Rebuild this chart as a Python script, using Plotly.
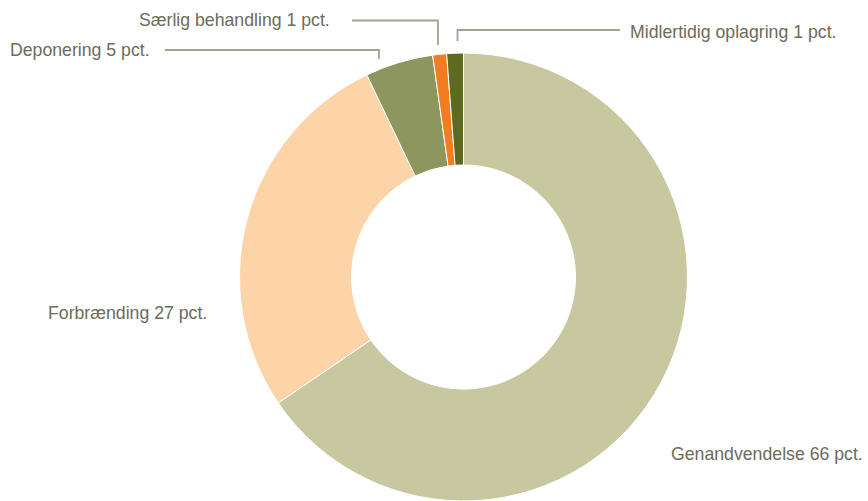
import plotly.graph_objects as go

categories = ["Genandvendelse", "Forbrænding", "Deponering", "Særlig behandling", "Midlertidig oplagring"]
values = [65.5, 27.4, 4.9, 1.0, 1.2]
label_texts = ["Genandvendelse 66 pct.", "Forbrænding 27 pct.", "Deponering 5 pct.",
               "Særlig behandling 1 pct.", "Midlertidig oplagring 1 pct."]
colors = ["#C8C8A0", "#FDD4A8", "#8C965E", "#F47C20", "#5E6A22"]

W, H = 868, 501
FONT = "Liberation Sans Narrow, Arial Narrow, Liberation Sans, Arial, sans-serif"
FONT_SIZE = 17.7
TEXT_COLOR = "#6C6C5A"
LINE_COLOR = "#A3A391"

def px(x):
    return x / W

def py(y):
    return min(1.0, max(0.0, 1 - y / H))

cx, cy, r = 463.5, 277.0, 224.0

fig = go.Figure(go.Pie(
    labels=categories,
    values=values,
    hole=0.5,
    sort=False,
    direction="clockwise",
    rotation=0,
    textinfo="none",
    hoverinfo="label+percent",
    marker=dict(colors=colors, line=dict(color="white", width=1)),
    domain=dict(x=[px(cx - r), px(cx + r)], y=[py(cy + r), py(cy - r)]),
    showlegend=False,
))

# label placement: (x, y, xanchor)
label_pos = [
    (669, 454, "left"),
    (46, 313, "left"),
    (8, 50, "left"),
    (332, 20, "right"),
    (628, 32, "left"),
]
for txt, (x, y, xa) in zip(label_texts, label_pos):
    fig.add_annotation(x=px(x), y=py(y), xref="paper", yref="paper", text=txt,
                       showarrow=False, xanchor=xa, yanchor="middle",
                       font=dict(family=FONT, size=FONT_SIZE, color=TEXT_COLOR))

# leader lines (polyline paths in paper space)
leaders = [
    [(165, 50), (379, 50), (379, 59)],
    [(352, 20.5), (438, 20.5), (438, 45)],
    [(620, 30), (457.5, 30), (457.5, 41)],
]
for pts in leaders:
    path = "M " + " L ".join(f"{px(x)},{py(y)}" for x, y in pts)
    fig.add_shape(type="path", path=path, xref="paper", yref="paper",
                  line=dict(color=LINE_COLOR, width=1.8))

fig.update_layout(
    width=W, height=H,
    margin=dict(l=0, r=0, t=0, b=0),
    paper_bgcolor="white",
    plot_bgcolor="white",
)

fig.write_html("out.html",
               config={"displayModeBar": False},
               post_script="document.body.style.margin='0';document.body.style.overflow='hidden';")
